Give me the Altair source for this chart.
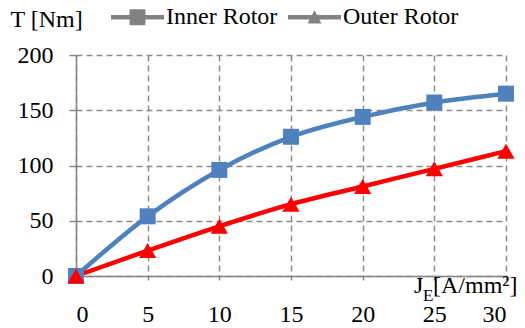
import altair as alt
import pandas as pd

# ---- data ----
j_values = [0, 5, 10, 15, 20, 25, 30]
inner_rotor = [0, 54, 96, 126, 144, 157, 165]
outer_rotor = [0, 23, 45, 65, 81, 97, 113]
series_names = ["Inner Rotor", "Outer Rotor"]
series_colors = ["#4F81BD", "#FF0000"]
y_ticks = [0, 50, 100, 150, 200]
x_ticks = [0, 5, 10, 15, 20, 25, 30]

FONT = "Liberation Serif"

df = pd.DataFrame({
    "J": j_values * 2,
    "T": inner_rotor + outer_rotor,
    "series": [series_names[0]] * len(j_values) + [series_names[1]] * len(j_values),
})
legend_df = pd.DataFrame({"series": series_names})
one_row = pd.DataFrame({"k": [0]})

x_enc = alt.X(
    "J:Q",
    scale=alt.Scale(domain=[0, 30], nice=False, zero=False),
    axis=alt.Axis(values=x_ticks, title=None, format="d", tickSize=4, labelPadding=22),
)
y_enc = alt.Y(
    "T:Q",
    scale=alt.Scale(domain=[0, 200], nice=False),
    axis=alt.Axis(
        values=y_ticks, format="d", tickSize=7, labelPadding=16,
        title="T [Nm]", titleAngle=0, titleX=-66, titleY=-29,
        titleAlign="left", titleBaseline="alphabetic",
        titleFont=FONT, titleFontSize=24, titleFontWeight="normal", titleColor="#000000",
    ),
)
color_scale = alt.Scale(domain=series_names, range=series_colors)

lines = alt.Chart(df).mark_line(interpolate="monotone", strokeWidth=4.5).encode(
    x=x_enc, y=y_enc,
    color=alt.Color("series:N", scale=color_scale, legend=None),
)

points = alt.Chart(df).mark_point(filled=True, opacity=1, strokeWidth=0).encode(
    x=x_enc, y=y_enc,
    color=alt.Color("series:N", scale=color_scale, legend=None),
    shape=alt.Shape("series:N", scale=alt.Scale(domain=series_names, range=["square", "triangle-up"]), legend=None),
    size=alt.Size("series:N", scale=alt.Scale(domain=series_names, range=[256, 300]), legend=None),
)

# legend symbols: line segment with marker on it
sq_path = "M-1,-0.085H1V0.085H-1ZM-0.3,-0.3H0.3V0.3H-0.3Z"
tri_path = "M-1,-0.085H1V0.085H-1ZM0,-0.26L0.26,0.24H-0.26Z"

leg = alt.Legend(
    orient="none", legendX=35, legendY=-64.5, direction="horizontal", title=None,
    symbolSize=2809, symbolStrokeWidth=0, labelFont=FONT, labelFontSize=24,
    labelColor="#000000", labelOffset=2, columnPadding=10, padding=0,
)
legend_layer = alt.Chart(legend_df).mark_point(filled=True, clip=True).encode(
    x=alt.value(-200), y=alt.value(-200),
    color=alt.Color("series:N", scale=color_scale, legend=leg),
    shape=alt.Shape("series:N", scale=alt.Scale(domain=series_names, range=[sq_path, tri_path]), legend=leg),
)

def label(txt, x, y, size):
    return alt.Chart(one_row).mark_text(
        align="left", baseline="alphabetic", font=FONT, fontSize=size, color="#000000"
    ).encode(x=alt.value(x), y=alt.value(y), text=alt.value(txt))

x_title = label("J", 338, 238, 24) + label("E", 347, 245.5, 17) + label("[A/mm²]", 357, 238, 24)

chart = alt.layer(lines, points, legend_layer, x_title).resolve_scale(
    shape="independent"
).properties(
    width=430, height=221,
    autosize=alt.AutoSizeParams(type="none"),
    padding={"left": 68, "top": 47, "right": 11, "bottom": 52},
).configure_view(stroke=None).configure_axis(
    domainColor="#868686", domainWidth=1.5,
    tickColor="#868686", tickWidth=1.5,
    labelFont=FONT, labelFontSize=24, labelColor="#000000",
    grid=True, gridColor="#8c8c8c", gridWidth=1.5, gridDash=[6, 4],
)

chart.save("out.html", embed_options={"renderer": "svg", "actions": False})
